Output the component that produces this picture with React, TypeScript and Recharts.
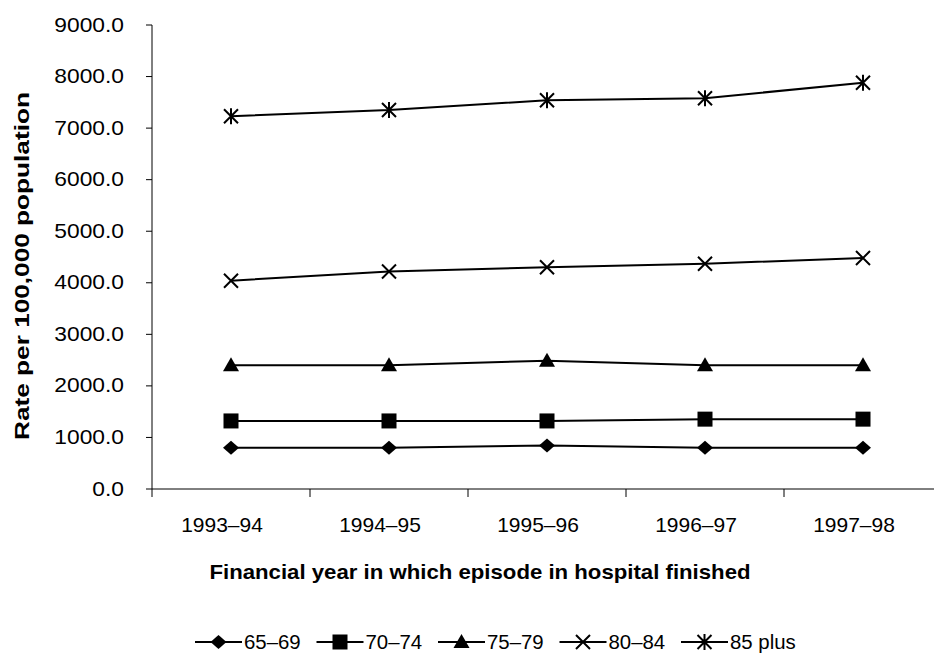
import React from "react";
import { LineChart, Line, XAxis, YAxis, Label } from "recharts";

const YEARS = ["1993–94", "1994–95", "1995–96", "1996–97", "1997–98"];
const AGE_65_69 = [800, 800, 845, 800, 800];
const AGE_70_74 = [1320, 1320, 1320, 1355, 1355];
const AGE_75_79 = [2400, 2400, 2490, 2400, 2400];
const AGE_80_84 = [4040, 4220, 4300, 4370, 4480];
const AGE_85_PLUS = [7230, 7350, 7540, 7580, 7880];
const Y_TICKS = [0, 1000, 2000, 3000, 4000, 5000, 6000, 7000, 8000, 9000];
const BAND_EDGES = [-0.5, 0.5, 1.5, 2.5, 3.5, 4.5];
const CENTERS = [0, 1, 2, 3, 4];

const SERIES = [
  { key: "a6569", name: "65–69", values: AGE_65_69, marker: "diamond" },
  { key: "a7074", name: "70–74", values: AGE_70_74, marker: "square" },
  { key: "a7579", name: "75–79", values: AGE_75_79, marker: "triangle" },
  { key: "a8084", name: "80–84", values: AGE_80_84, marker: "cross" },
  { key: "a85", name: "85 plus", values: AGE_85_PLUS, marker: "star" }
];

const data = YEARS.map((year, i) => {
  const row: Record<string, number | string> = { i, year };
  SERIES.forEach((s) => {
    row[s.key] = s.values[i];
  });
  return row;
});

const FONT = "'Liberation Sans', Arial, sans-serif";

function Marker({ type, cx, cy }: { type: string; cx: number; cy: number }) {
  if (type === "diamond") {
    return (
      <path
        d={`M${cx - 8},${cy} L${cx},${cy - 7} L${cx + 8},${cy} L${cx},${cy + 7} Z`}
        fill="#000"
      />
    );
  }
  if (type === "square") {
    return <rect x={cx - 7.5} y={cy - 7.5} width={15} height={15} fill="#000" />;
  }
  if (type === "triangle") {
    return (
      <path
        d={`M${cx - 8},${cy + 6} L${cx},${cy - 8} L${cx + 8},${cy + 6} Z`}
        fill="#000"
      />
    );
  }
  if (type === "cross") {
    return (
      <path
        d={`M${cx - 7},${cy - 7} L${cx + 7},${cy + 7} M${cx - 7},${cy + 7} L${cx + 7},${cy - 7}`}
        stroke="#000"
        strokeWidth={2}
        fill="none"
      />
    );
  }
  return (
    <path
      d={`M${cx - 7},${cy - 7} L${cx + 7},${cy + 7} M${cx - 7},${cy + 7} L${cx + 7},${cy - 7} M${cx},${cy - 8} L${cx},${cy + 8}`}
      stroke="#000"
      strokeWidth={2}
      fill="none"
    />
  );
}

function YTick(props: any) {
  const { x, y, payload } = props;
  return (
    <text
      transform={`translate(${x},${y}) scale(1.14,1)`}
      textAnchor="end"
      dy="0.33em"
      fontSize={20}
      fontFamily={FONT}
      fill="#000"
    >
      {payload.value.toFixed(1)}
    </text>
  );
}

function XTick(props: any) {
  const { x, y, payload } = props;
  return (
    <text
      transform={`translate(${x - 9},${y + 34}) scale(1.05,1)`}
      textAnchor="middle"
      fontSize={20}
      fontFamily={FONT}
      fill="#000"
    >
      {YEARS[payload.value]}
    </text>
  );
}

function XTitle() {
  return (
    <text
      transform="translate(480,579) scale(1.11,1)"
      textAnchor="middle"
      fontSize={20}
      fontWeight="bold"
      fontFamily={FONT}
      fill="#000"
    >
      Financial year in which episode in hospital finished
    </text>
  );
}

function YTitle() {
  return (
    <text
      transform="translate(29,266) rotate(-90) scale(1.31,1)"
      textAnchor="middle"
      fontSize={20}
      fontWeight="bold"
      fontFamily={FONT}
      fill="#000"
    >
      Rate per 100,000 population
    </text>
  );
}

function LegendContent() {
  return (
    <svg width={934} height={24} style={{ display: "block" }}>
      {SERIES.map((s, i) => {
        const x0 = 195 + i * 121.5;
        return (
          <g key={s.key}>
            <line x1={x0} x2={x0 + 47} y1={12} y2={12} stroke="#000" strokeWidth={2} />
            <Marker type={s.marker} cx={x0 + 23.5} cy={12} />
            <text
              transform={`translate(${x0 + 49},19) scale(1.02,1)`}
              fontSize={20}
              fontFamily={FONT}
              fill="#000"
            >
              {s.name}
            </text>
          </g>
        );
      })}
    </svg>
  );
}

export default function App() {
  return (
    <div
      style={{
        position: "fixed",
        left: 0,
        top: 0,
        width: 934,
        height: 659,
        overflow: "hidden",
        background: "#fff"
      }}
    >
      <div style={{ position: "absolute", left: 0, top: 0 }}>
        <LineChart
          width={942}
          height={659}
          data={data}
          margin={{ top: 25, right: 0, bottom: 29, left: 0 }}
        >
          <YAxis
            width={152}
            domain={[0, 9000]}
            ticks={Y_TICKS}
            tickSize={6}
            tickMargin={22}
            tick={<YTick />}
            stroke="#000"
            axisLine={{ stroke: "#000" }}
            tickLine={{ stroke: "#000" }}
            interval={0}
          >
            <Label content={<YTitle />} />
          </YAxis>
          <XAxis
            xAxisId="b"
            dataKey="i"
            type="number"
            domain={[-0.5, 4.5]}
            ticks={BAND_EDGES}
            interval={0}
            tickSize={8}
            tickFormatter={() => ""}
            height={9}
            axisLine={{ stroke: "#000" }}
            tickLine={{ stroke: "#000" }}
          />
          <XAxis
            xAxisId="c"
            dataKey="i"
            type="number"
            domain={[-0.5, 4.5]}
            ticks={CENTERS}
            interval={0}
            tickSize={0}
            tickMargin={0}
            axisLine={false}
            tickLine={false}
            tick={<XTick />}
            height={132}
          >
            <Label content={<XTitle />} />
          </XAxis>
          {SERIES.map((s) => (
            <Line
              key={s.key}
              xAxisId="b"
              dataKey={s.key}
              name={s.name}
              stroke="#000"
              strokeWidth={2}
              isAnimationActive={false}
              dot={(p: any) => (
                <Marker key={`${s.key}-${p.index}`} type={s.marker} cx={p.cx} cy={p.cy} />
              )}
              activeDot={false}
            />
          ))}
        </LineChart>
        <div style={{ position: "absolute", left: 0, top: 630 }}>
          <LegendContent />
        </div>
      </div>
    </div>
  );
}
